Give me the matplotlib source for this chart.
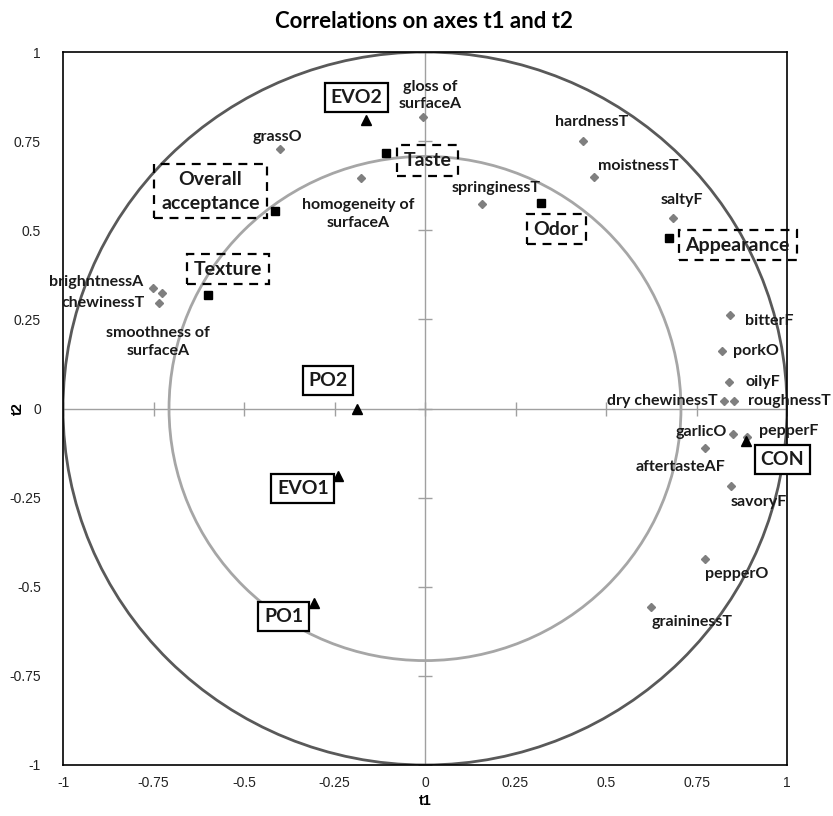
import numpy as np
import matplotlib
matplotlib.use('Agg')
import matplotlib.pyplot as plt
from matplotlib.patches import Circle

plt.rcParams['font.family'] = ['Lato', 'DejaVu Sans']

# attributes (gray diamonds)
attr_names = ['grassO', 'homogeneity of\nsurfaceA', 'brighntnessA', 'smoothness of\nsurfaceA',
              'chewinessT', 'gloss of\nsurfaceA', 'hardnessT', 'moistnessT', 'springinessT',
              'saltyF', 'bitterF', 'porkO', 'oilyF', 'dry chewinessT', 'roughnessT',
              'garlicO', 'pepperF', 'aftertasteAF', 'savoryF', 'pepperO', 'graininessT']
attr_t1 = [-0.40, -0.178, -0.752, -0.727, -0.735, -0.006, 0.436, 0.467, 0.158,
           0.685, 0.843, 0.820, 0.841, 0.826, 0.854, 0.850, 0.889, 0.773, 0.846, 0.773, 0.625]
attr_t2 = [0.728, 0.646, 0.339, 0.323, 0.295, 0.819, 0.749, 0.649, 0.574,
           0.534, 0.261, 0.160, 0.074, 0.021, 0.021, -0.071, -0.079, -0.111, -0.216, -0.421, -0.556]

# acceptance groups (black squares)
group_names = ['Overall\nacceptance', 'Texture', 'Taste', 'Odor', 'Appearance']
group_t1 = [-0.413, -0.599, -0.109, 0.321, 0.673]
group_t2 = [0.553, 0.318, 0.716, 0.576, 0.478]

# samples (black triangles)
sample_names = ['EVO2', 'PO2', 'EVO1', 'PO1', 'CON']
sample_t1 = [-0.164, -0.188, -0.241, -0.307, 0.888]
sample_t2 = [0.81, 0.0, -0.188, -0.545, -0.09]

ticks = [-1, -0.75, -0.5, -0.25, 0, 0.25, 0.5, 0.75, 1]
tick_labels = ['-1', '-0.75', '-0.5', '-0.25', '0', '0.25', '0.5', '0.75', '1']

# label offsets in pixels: (dx, dy, ha)
attr_off = [(-3, 12, 'center'), (-2, -36, 'center'), (-10, 6, 'right'), (-4, -49, 'center'),
            (-14, 0, 'right'), (7, 21, 'center'), (9, 19, 'center'), (4, 11, 'left'),
            (14, 16, 'center'), (9, 18, 'center'), (15, -6, 'left'), (11, 0, 'left'),
            (16, 0, 'left'), (-6, 0, 'right'), (14, 0, 'left'), (-6, 2, 'right'),
            (12, 6, 'left'), (-24, -19, 'center'), (27, -16, 'center'), (32, -15, 'center'),
            (41, -15, 'center')]
group_off = [(-65, 20), (20, 26), (42, -7), (15, -26), (69, -7)]
sample_off = [(-9, 22), (-29, 28), (-35, -13), (-30, -14), (36, -19)]

fig = plt.figure(figsize=(8.33, 8.16), dpi=100)
ax = fig.add_axes([63 / 833, 51 / 816, 724 / 833, 713 / 816])
ax.set_xlim(-1, 1)
ax.set_ylim(-1, 1)

ax.add_patch(Circle((0, 0), 1.0, fill=False, ec='#595959', lw=2, zorder=2))
ax.add_patch(Circle((0, 0), np.sqrt(0.5), fill=False, ec='#a6a6a6', lw=2, zorder=2))

ax.axhline(0, color='#a0a0a0', lw=1, zorder=1)
ax.axvline(0, color='#a0a0a0', lw=1, zorder=1)
ax.plot(ticks, [0] * len(ticks), ls='none', marker='|', ms=10, color='#a0a0a0', mew=1, zorder=1)
ax.plot([0] * len(ticks), ticks, ls='none', marker='_', ms=10, color='#a0a0a0', mew=1, zorder=1)

ax.plot(attr_t1, attr_t2, ls='none', marker='D', ms=4.5, color='#7f7f7f', zorder=3)
ax.plot(group_t1, group_t2, ls='none', marker='s', ms=6, color='black', zorder=3)
ax.plot(sample_t1, sample_t2, ls='none', marker='^', ms=6.5, color='black', zorder=3)

for name, x, y, (dx, dy, ha) in zip(attr_names, attr_t1, attr_t2, attr_off):
    ax.annotate(name, (x, y), xytext=(dx, dy), textcoords='offset pixels', ha=ha, va='center',
                fontsize=11.5, fontweight='bold', color='#1a1a1a', linespacing=1.35,
                annotation_clip=False, zorder=4)

for name, x, y, (dx, dy) in zip(group_names, group_t1, group_t2, group_off):
    ax.annotate(name, (x, y), xytext=(dx, dy), textcoords='offset pixels', ha='center', va='center',
                fontsize=14, fontweight='bold', color='#1a1a1a', linespacing=1.45,
                annotation_clip=False, zorder=5,
                bbox=dict(boxstyle='square,pad=0.35', fc='none', ec='black', lw=1.6, ls=(0, (4, 3))))

for name, x, y, (dx, dy) in zip(sample_names, sample_t1, sample_t2, sample_off):
    ax.annotate(name, (x, y), xytext=(dx, dy), textcoords='offset pixels', ha='center', va='center',
                fontsize=14, fontweight='bold', color='#1a1a1a',
                annotation_clip=False, zorder=5,
                bbox=dict(boxstyle='square,pad=0.3', fc='white', ec='black', lw=1.6))

ax.set_xticks(ticks)
ax.set_xticklabels(tick_labels)
ax.set_yticks(ticks)
ax.set_yticklabels(tick_labels)
ax.tick_params(length=0, labelsize=10, colors='#222222')
ax.tick_params(axis='x', pad=8)
ax.tick_params(axis='y', pad=16)
for lab in ax.get_xticklabels() + ax.get_yticklabels():
    lab.set_family(['Liberation Sans', 'DejaVu Sans'])
for sp in ax.spines.values():
    sp.set_color('black')
    sp.set_linewidth(1.2)

ax.set_xlabel('t1', fontsize=10.5, fontweight='bold', family=['Liberation Sans', 'DejaVu Sans'])
ax.set_ylabel('t2', fontsize=10.5, fontweight='bold', family=['Liberation Sans', 'DejaVu Sans'])
ax.xaxis.set_label_coords(0.5, -29 / 713)
ax.yaxis.set_label_coords(-38 / 724, 0.5)
fig.suptitle('Correlations on axes t1 and t2', x=424 / 833, y=1 - 21 / 816, va='center',
             fontsize=16, fontweight='bold')

fig.savefig('out.png', dpi=100)
